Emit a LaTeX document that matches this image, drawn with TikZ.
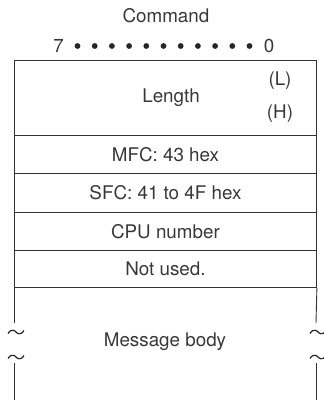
\documentclass[tikz,border=0pt]{standalone}
\usepackage{fontspec}
\setmainfont{TeX Gyre Heros}
\begin{document}
\begin{tikzpicture}[x=1pt,y=-1pt,
  txt/.style={text=black!78, font=\fontsize{18.8}{21}\selectfont, inner sep=0pt},
  rowbox/.style={draw=black!80, line width=0.9pt, minimum width=302pt, inner sep=0pt, anchor=north west},
  frame/.style={draw=black!80, line width=0.9pt},
  bitdot/.style={fill=black!85, circle, inner sep=0pt, minimum size=5.8pt}]
\useasboundingbox (0,0) rectangle (324,400);
% title
\node[txt] (cmd) at (166,16) {Command};
\node[txt] (b7) at (58.5,45.5) {7};
\node[txt] (b0) at (269,45.5) {0};
\foreach \i in {0,...,10} {
  \node[bitdot] (d\i) at ({77.5+\i*17.2},46) {};
}
% rows
\node[rowbox, minimum height=75pt] (rlen) at (14,60) {};
\node[rowbox, minimum height=38pt] (rmfc) at (14,135) {};
\node[rowbox, minimum height=39pt] (rsfc) at (14,173) {};
\node[rowbox, minimum height=38pt] (rcpu) at (14,212) {};
\node[rowbox, minimum height=37pt] (rnot) at (14,250) {};
\node[txt] (tlen) at (171,97.5) {Length};
\node[txt] (tl) at (280,80.5) {(L)};
\node[txt] (th) at (280,113.5) {(H)};
\node[txt] at (rmfc.center) {MFC: 43 hex};
\node[txt] at (rsfc.center) {SFC: 41 to 4F hex};
\node[txt] at (rcpu.center) {CPU number};
\node[txt] at (rnot.center) {Not used.};
% message body
\coordinate (ml1) at (14,323);
\coordinate (ml2) at (14,363);
\coordinate (mr1) at (316,323);
\coordinate (mr2) at (316,363);
\draw[frame] (rnot.south west) -- (ml1);
\draw[frame] (ml2) -- (14,402);
\draw[frame] (rnot.south east) -- (mr1);
\draw[frame] (mr2) -- (316,402);
\node[txt] (tmsg) at (165,342) {Message body};
% tildes
\foreach \cx/\cy in {16/332, 16/357, 318/332, 318/357} {
  \draw[line width=1.2pt, black!85] (\cx-8,\cy+1.5) .. controls (\cx-4,\cy-5) and (\cx+0,\cy+0) .. (\cx,\cy) .. controls (\cx,\cy) and (\cx+4,\cy+5) .. (\cx+8,\cy-1.5);
}
\end{tikzpicture}
\end{document}
